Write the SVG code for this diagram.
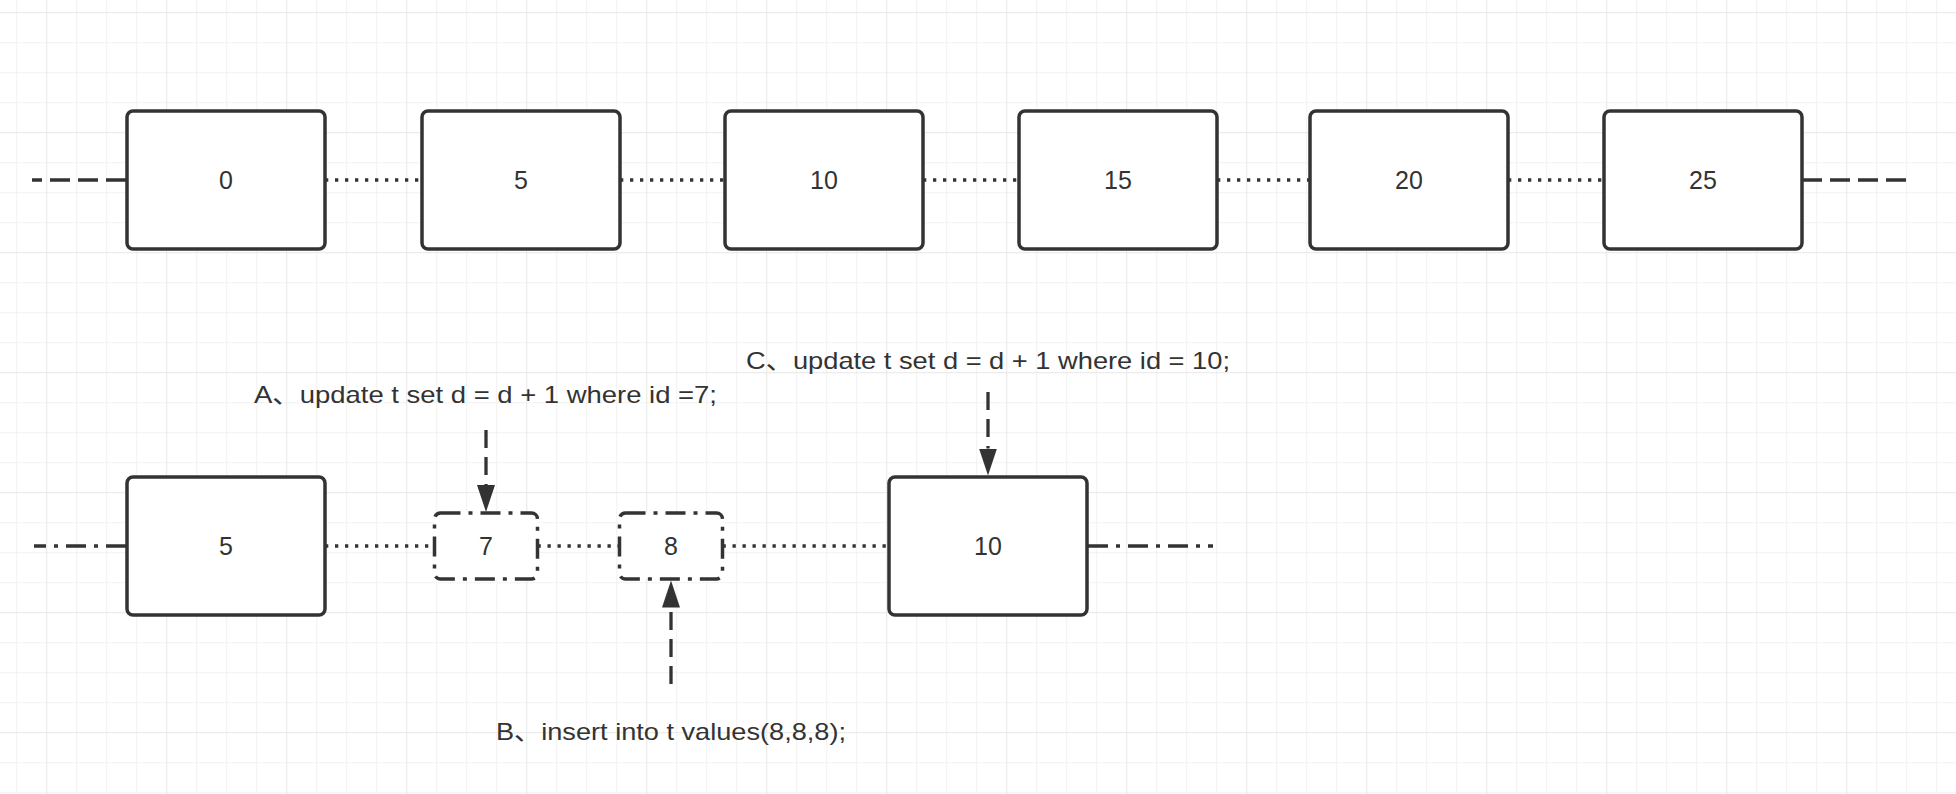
<svg xmlns="http://www.w3.org/2000/svg" width="1956" height="794" viewBox="0 0 1956 794">
<style>
.box{fill:#fff;stroke:#333;stroke-width:3.5}
.dbox{fill:#fff;stroke:#333;stroke-width:3.5;stroke-dasharray:20 8 4 8}
.num{font-family:"Liberation Sans","Noto Sans CJK SC",sans-serif;font-size:25px;fill:#333;text-anchor:middle}
.lbl{font-family:"Liberation Sans","Noto Sans CJK SC",sans-serif;font-size:24px;fill:#333}
.dot{fill:none;stroke:#333;stroke-width:3.3;stroke-dasharray:3.3 6.7}
.dash{fill:none;stroke:#333;stroke-width:3.3;stroke-dasharray:20 8}
.dashdot{fill:none;stroke:#333;stroke-width:3.3;stroke-dasharray:20 8 4 8}
.arrow{fill:none;stroke:#333;stroke-width:3.3;stroke-dasharray:18 9;marker-end:url(#head)}
</style>
<defs>
<pattern id="grid" patternUnits="userSpaceOnUse" x="46.2" y="12.2" width="120" height="120">
<path d="M30.5 0V120M60.5 0V120M90.5 0V120M0 30.5H120M0 60.5H120M0 90.5H120" stroke="#f2f2f2" stroke-width="1" fill="none"/>
<path d="M0.5 0V120M0 0.5H120" stroke="#e7e7e7" stroke-width="1" fill="none"/>
</pattern>
<marker id="head" markerUnits="userSpaceOnUse" markerWidth="28" markerHeight="18" refX="0" refY="9" orient="auto">
<path d="M0 0L27 9L0 18Z" fill="#333"/>
</marker>
</defs>
<rect width="1956" height="794" fill="#fff"/>
<rect width="1956" height="794" fill="url(#grid)"/>

<g id="connectors">
<path class="dash" d="M126 180H32"/>
<path class="dot" d="M325 180H422"/>
<path class="dot" d="M620 180H725"/>
<path class="dot" d="M923 180H1019"/>
<path class="dot" d="M1217 180H1310"/>
<path class="dot" d="M1508 180H1604"/>
<path class="dash" d="M1802 180H1907"/>
<path class="dashdot" d="M126 546H34"/>
<path class="dot" d="M325 546H434.5"/>
<path class="dot" d="M537.5 546H619.5"/>
<path class="dot" d="M722.5 546H889"/>
<path class="dashdot" d="M1088 546H1213"/>
<path class="arrow" d="M486 430V485"/>
<path class="arrow" d="M988 392V448.5"/>
<path class="arrow" d="M671 684V607.5"/>
</g>

<g id="n0"><rect class="box" x="127" y="111" width="198" height="138" rx="6"/><text class="num" x="226" y="189">0</text></g>
<g id="n5"><rect class="box" x="422" y="111" width="198" height="138" rx="6"/><text class="num" x="521" y="189">5</text></g>
<g id="n10"><rect class="box" x="725" y="111" width="198" height="138" rx="6"/><text class="num" x="824" y="189">10</text></g>
<g id="n15"><rect class="box" x="1019" y="111" width="198" height="138" rx="6"/><text class="num" x="1118" y="189">15</text></g>
<g id="n20"><rect class="box" x="1310" y="111" width="198" height="138" rx="6"/><text class="num" x="1409" y="189">20</text></g>
<g id="n25"><rect class="box" x="1604" y="111" width="198" height="138" rx="6"/><text class="num" x="1703" y="189">25</text></g>

<g id="b5"><rect class="box" x="127" y="477" width="198" height="138" rx="6"/><text class="num" x="226" y="555">5</text></g>
<g id="b7"><rect class="dbox" x="434.5" y="513" width="103" height="66" rx="6"/><text class="num" x="486" y="555">7</text></g>
<g id="b8"><rect class="dbox" x="619.5" y="513" width="103" height="66" rx="6"/><text class="num" x="671" y="555">8</text></g>
<g id="b10"><rect class="box" x="889" y="477" width="198" height="138" rx="6"/><text class="num" x="988" y="555">10</text></g>

<g id="labelA"><text class="lbl" x="254" y="403" textLength="463" lengthAdjust="spacingAndGlyphs">A、update t set d = d + 1 where id =7;</text></g>
<g id="labelB"><text class="lbl" x="496" y="740" textLength="350" lengthAdjust="spacingAndGlyphs">B、insert into t values(8,8,8);</text></g>
<g id="labelC"><text class="lbl" x="746" y="369" textLength="484" lengthAdjust="spacingAndGlyphs">C、update t set d = d + 1 where id = 10;</text></g>
</svg>
